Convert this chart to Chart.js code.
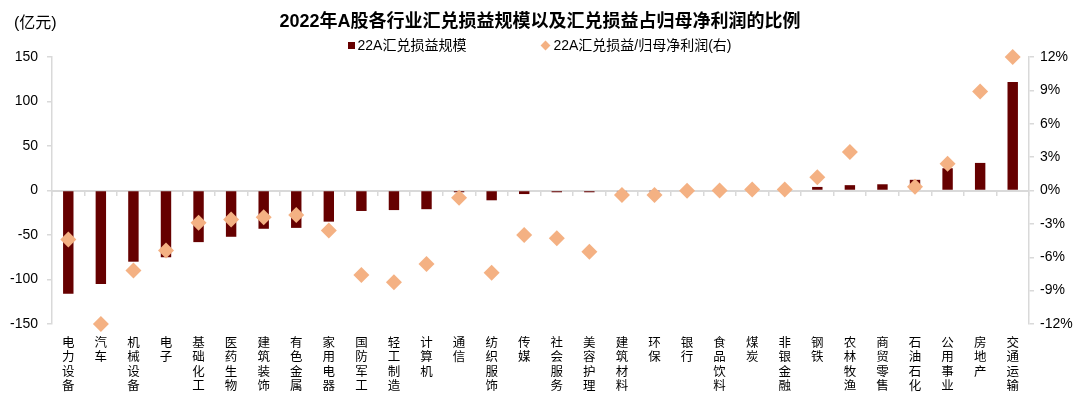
<!DOCTYPE html>
<html>
<head>
<meta charset="utf-8">
<script src="https://cdn.jsdelivr.net/npm/chart.js@4/dist/chart.umd.min.js"></script>
<style>
  html, body { margin: 0; padding: 0; background: #fff; }
  #wrap { position: relative; width: 1080px; height: 403px; font-family: "Liberation Sans", Arial, "Noto Sans CJK SC", sans-serif; }
  #title { position: absolute; left: 0; width: 1080px; top: 6px; text-align: center; font-weight: bold; font-size: 18px; color: #000; }
  #unit { position: absolute; left: 14px; top: 9px; font-size: 16px; color: #000; }
  #legend { position: absolute; left: 0; width: 1080px; top: 34px; text-align: center; font-size: 14px; color: #000; white-space: nowrap; }
  #legend .item { display: inline-block; vertical-align: middle; }
  #legend .sq { display: inline-block; width: 7px; height: 7px; background: #660000; margin-right: 2px; vertical-align: middle; position: relative; top: -1px; }
  #legend .dm { display: inline-block; width: 7px; height: 7px; background: #F4B183; transform: rotate(45deg); margin-right: 4px; margin-left: 2px; vertical-align: middle; position: relative; top: -1px; }
  canvas { position: absolute; left: 0; top: 0; }
</style>
</head>
<body>
<div id="wrap">
  <canvas id="c" width="1080" height="403"></canvas>
  <div id="unit">(亿元)</div>
  <div id="title">2022年A股各行业汇兑损益规模以及汇兑损益占归母净利润的比例</div>
  <div id="legend"><span class="item"><span class="sq"></span>22A汇兑损益规模</span><span class="item" style="margin-left:74px"><span class="dm"></span>22A汇兑损益/归母净利润(右)</span></div>
</div>
<script>
const categories = ["电力设备","汽车","机械设备","电子","基础化工","医药生物","建筑装饰","有色金属","家用电器","国防军工","轻工制造","计算机","通信","纺织服饰","传媒","社会服务","美容护理","建筑材料","环保","银行","食品饮料","煤炭","非银金融","钢铁","农林牧渔","商贸零售","石油石化","公用事业","房地产","交通运输"];
const fxGainLoss = [-116,-105,-80,-75,-58,-52,-43,-42,-35,-23,-22,-21,-2,-11,-4,-2,-2,-0.5,-0.3,0,0,0,0,4,6,7,12,25,31,122];
const fxRatioPct = [-4.4,-12.0,-7.2,-5.4,-2.9,-2.6,-2.4,-2.2,-3.6,-7.6,-8.25,-6.6,-0.66,-7.4,-4.0,-4.3,-5.5,-0.4,-0.4,-0.03,0,0.1,0.1,1.2,3.45,null,0.33,2.4,8.9,12.0];
const leftTicks = [-150,-100,-50,0,50,100,150];
const rightTicks = [-12,-9,-6,-3,0,3,6,9,12];

const GRAY = '#d9d9d9';
const tickFont = { family: '"Liberation Sans", Arial, "Noto Sans CJK SC", sans-serif', size: 14 };
const labelFont = { family: '"Noto Sans CJK SC", "Liberation Sans", sans-serif', size: 12.5, lineHeight: 1.15 };

new Chart(document.getElementById('c'), {
  type: 'bar',
  data: {
    labels: categories,
    datasets: [
      {
        label: '22A汇兑损益规模',
        data: fxGainLoss,
        backgroundColor: '#660000',
        borderWidth: 0,
        yAxisID: 'y',
        xAxisID: 'x',
        barPercentage: 0.32,
        categoryPercentage: 1.0,
        order: 2
      },
      {
        type: 'line',
        label: '22A汇兑损益/归母净利润(右)',
        data: fxRatioPct,
        showLine: false,
        clip: false,
        pointStyle: 'rectRot',
        pointRadius: 8,
        pointHoverRadius: 8,
        pointBackgroundColor: '#F4B183',
        pointBorderWidth: 0,
        borderColor: '#F4B183',
        backgroundColor: '#F4B183',
        yAxisID: 'y2',
        xAxisID: 'x',
        order: 1
      }
    ]
  },
  options: {
    responsive: false,
    animation: false,
    devicePixelRatio: 1,
    layout: { padding: { top: 57, left: 0, right: 0, bottom: 0 } },
    plugins: {
      legend: { display: false },
      title: { display: false },
      tooltip: { enabled: false }
    },
    scales: {
      x: {
        type: 'category',
        position: 'bottom',
        offset: true,
        grid: { display: false, drawTicks: false },
        border: { display: false },
        ticks: {
          autoSkip: false,
          maxRotation: 0,
          minRotation: 0,
          padding: 11,
          color: '#000',
          font: labelFont,
          callback: function(v) { return Array.from(categories[v]); }
        },
        afterFit: function(s) { s.height = 79; }
      },
      x2: {
        type: 'category',
        labels: categories,
        position: { y: 0 },
        offset: true,
        grid: { offset: true, drawOnChartArea: false, drawTicks: true, tickLength: 4, color: GRAY, lineWidth: 1.5 },
        border: { display: true, color: GRAY, width: 2 },
        ticks: { display: false }
      },
      y: {
        position: 'left',
        min: -150,
        max: 150,
        afterBuildTicks: function(s) { s.ticks = leftTicks.map(v => ({ value: v })); },
        grid: { drawOnChartArea: false, drawTicks: true, tickLength: 5, color: GRAY, lineWidth: 1.5 },
        border: { display: true, color: GRAY, width: 1.5 },
        ticks: { padding: 9, color: '#000', font: tickFont },
        afterFit: function(s) { s.width = 52; }
      },
      y2: {
        position: 'right',
        min: -12,
        max: 12,
        afterBuildTicks: function(s) { s.ticks = rightTicks.map(v => ({ value: v })); },
        grid: { drawOnChartArea: false, drawTicks: true, tickLength: 5, color: GRAY, lineWidth: 1.5 },
        border: { display: true, color: GRAY, width: 1.5 },
        ticks: { padding: 6, color: '#000', font: tickFont, callback: v => v + '%' },
        afterFit: function(s) { s.width = 51; }
      }
    }
  }
});
</script>
</body>
</html>
